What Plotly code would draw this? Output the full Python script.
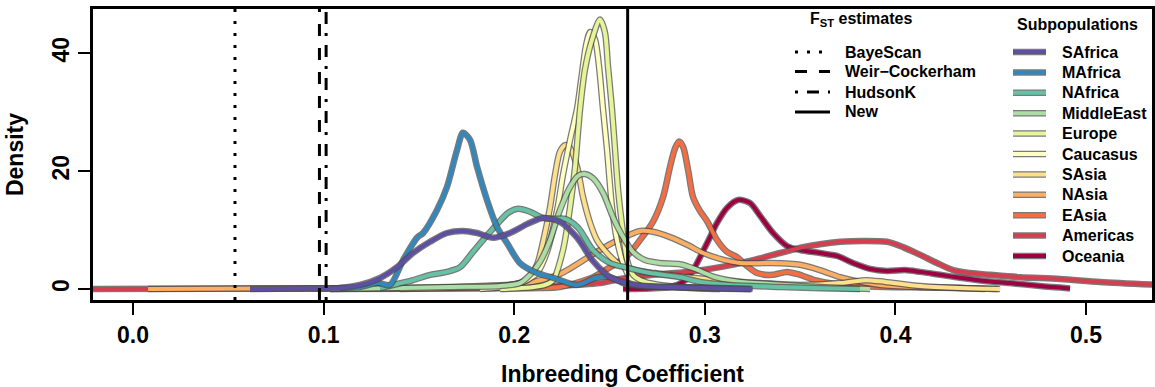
import plotly.graph_objects as go

# ---------------- data ----------------
subpops = ["SAfrica", "MAfrica", "NAfrica", "MiddleEast", "Europe", "Caucasus",
           "SAsia", "NAsia", "EAsia", "Americas", "Oceania"]
colors = ["#5E4FA2", "#3288BD", "#66C2A5", "#ABDDA4", "#E6F598", "#FFFFBF",
          "#FEE08B", "#FDAE61", "#F46D43", "#D53E4F", "#9E0142"]

x_SAfrica = [0.0614, 0.0876, 0.1086, 0.119, 0.1296, 0.1385, 0.1469, 0.1558, 0.1647, 0.1731, 0.1805,
             0.1889, 0.1978, 0.2067, 0.2151, 0.224, 0.233, 0.2413, 0.2503, 0.2571, 0.266, 0.287, 0.308, 0.325]
y_SAfrica = [0, 0.1, 0.17, 0.68, 1.87, 3.7, 6.1, 8.0, 9.5, 9.85, 9.5,
             8.7, 9.5, 11.0, 12.05, 11.4, 8.7, 4.75, 2.0, 1.2, 0.6, 0.25, 0.1, 0]

x_MAfrica = [0.1086, 0.119, 0.1285, 0.1348, 0.1417, 0.149, 0.1522, 0.1595, 0.1647, 0.170, 0.1731, 0.1768,
             0.1805, 0.1857, 0.191, 0.1962, 0.203, 0.212, 0.2204, 0.233, 0.2434, 0.2503, 0.2571, 0.266,
             0.287, 0.308, 0.324]
y_MAfrica = [0.17, 0.34, 1.0, 0.68, 4.9, 8.7, 9.5, 13.4, 17.3, 23.6, 26.5, 25.3,
             20.7, 15.1, 10.5, 7.8, 4.4, 2.7, 1.9, 0.68, 2.0, 2.0, 1.0, 0.5,
             0.34, 0.17, 0]

x_NAfrica = [0.1296, 0.1364, 0.1469, 0.1558, 0.1647, 0.1716, 0.1784, 0.1847, 0.191, 0.1967, 0.202, 0.2083,
             0.2151, 0.2214, 0.2267, 0.2335, 0.2413, 0.2503, 0.2592, 0.2713, 0.287, 0.2975, 0.3132, 0.3395,
             0.3657, 0.3814]
y_NAfrica = [0.17, 0.68, 1.5, 2.4, 2.9, 3.7, 6.3, 8.7, 11.0, 12.9, 13.6, 13.1,
             12.05, 11.9, 11.9, 10.4, 6.6, 4.4, 3.6, 2.7, 2.0, 1.2, 0.68, 0.34,
             0.1, 0]

x_MiddleEast = [0.1034, 0.1401, 0.1663, 0.1926, 0.203, 0.2083, 0.2135, 0.2188, 0.224, 0.2293, 0.2335,
                0.2371, 0.2413, 0.2466, 0.2518, 0.2571, 0.2623, 0.2686, 0.2765, 0.287, 0.2949, 0.3054,
                0.3185, 0.3342, 0.35, 0.3657, 0.3867]
y_MiddleEast = [0, 0.17, 0.34, 0.5, 1.0, 2.4, 4.6, 8.3, 13.4, 17.3, 19.2,
                19.5, 18.8, 16.3, 12.2, 8.8, 6.3, 4.9, 4.4, 4.2, 3.4, 2.0,
                1.2, 0.85, 0.5, 0.25, 0]

x_Europe = [0.1926, 0.2083, 0.2162, 0.2204, 0.2256, 0.2293, 0.2319, 0.2345, 0.2371, 0.2408, 0.245,
            0.2476, 0.2492, 0.2513, 0.2529, 0.2545, 0.2571, 0.2592, 0.2623, 0.2686, 0.2765, 0.287,
            0.308, 0.324]
y_Europe = [0, 0.25, 0.68, 1.5, 6.6, 13.9, 20.7, 30.4, 37.2, 42.3, 45.7,
            43.5, 37.7, 30.4, 23.6, 16.8, 9.5, 4.9, 2.4, 1.2, 0.68, 0.34,
            0.1, 0]

x_Caucasus = [0.1821, 0.1926, 0.2004, 0.2067, 0.212, 0.2172, 0.2225, 0.2256, 0.2293, 0.233, 0.2356,
              0.2377, 0.2398, 0.2424, 0.2445, 0.2466, 0.2487, 0.2513, 0.2539, 0.2571, 0.2608, 0.266,
              0.2739, 0.2817, 0.2975, 0.308]
y_Caucasus = [0, 0.25, 0.68, 1.5, 2.7, 6.3, 13.4, 19.4, 25.3, 30.7, 36.7,
              41.4, 43.6, 42.3, 37.7, 30.4, 23.6, 13.9, 8.3, 4.4, 1.87, 0.85,
              0.5, 0.34, 0.1, 0]

x_SAsia = [0.1401, 0.1663, 0.1873, 0.1978, 0.2067, 0.212, 0.2151, 0.2188, 0.2214, 0.224, 0.2267, 0.2293,
           0.233, 0.2361, 0.2398, 0.2434, 0.2487, 0.2555, 0.2634, 0.2739, 0.2907, 0.308, 0.329, 0.35,
           0.371, 0.384, 0.3945, 0.413, 0.4339, 0.4549]
y_SAsia = [0, 0.17, 0.34, 0.68, 1.5, 4.2, 8.0, 13.9, 19.4, 23.3, 24.4, 23.9,
           20.7, 15.6, 11.2, 8.3, 6.1, 4.1, 3.2, 2.7, 2.0, 1.5, 1.0, 0.68,
           1.0, 1.5, 1.2, 0.5, 0.17, 0]

x_NAsia = [0.0079, 0.0876, 0.1506, 0.1821, 0.2067, 0.224, 0.2413, 0.2503, 0.2592, 0.266, 0.2728, 0.2817,
           0.2907, 0.2991, 0.308, 0.3185, 0.3342, 0.35, 0.3604, 0.371, 0.3814, 0.3919, 0.4129, 0.4339, 0.447]
y_NAsia = [0, 0.1, 0.17, 0.5, 1.0, 2.55, 5.9, 7.6, 9.0, 9.85, 9.7, 8.8,
           7.5, 6.1, 5.1, 4.4, 4.4, 4.1, 3.2, 2.0, 1.2, 0.68, 0.34, 0.17, 0]

x_EAsia = [0.1034, 0.1821, 0.2135, 0.224, 0.2413, 0.2503, 0.2592, 0.266, 0.2728, 0.2781, 0.2817, 0.2844,
           0.2865, 0.2886, 0.2912, 0.2938, 0.2975, 0.3012, 0.3064, 0.3116, 0.3169, 0.3221, 0.3274, 0.3353,
           0.3431, 0.35, 0.3578, 0.3683, 0.3867, 0.4129, 0.4339, 0.4538]
y_EAsia = [0, 0.1, 0.17, 0.34, 2.0, 3.7, 5.6, 8.3, 11.4, 15.6, 20.7, 23.9,
           25.0, 24.1, 20.2, 15.6, 13.2, 11.5, 8.3, 6.3, 5.4, 3.9, 2.7, 2.4,
           2.9, 2.4, 1.5, 0.85, 0.42, 0.25, 0.17, 0]

x_Americas = [-0.025, 0.10, 0.18, 0.22, 0.245, 0.2555, 0.2728, 0.2907, 0.308, 0.3253, 0.3395, 0.3515,
              0.3604, 0.371, 0.383, 0.3956, 0.404, 0.4129, 0.4218, 0.4302, 0.4391, 0.4496, 0.4654,
              0.4864, 0.5073, 0.5388]
y_Americas = [0, 0.1, 0.25, 0.5, 1.0, 1.7, 2.4, 2.9, 3.7, 4.9, 6.1, 7.1,
              7.6, 8.0, 8.15, 8.0, 7.1, 5.8, 4.4, 3.2, 2.7, 2.4, 2.0,
              1.7, 1.2, 0.7]

x_Oceania = [0.2571, 0.2713, 0.2817, 0.2886, 0.2938, 0.3012, 0.3064, 0.3116, 0.3174, 0.3237, 0.329,
             0.3358, 0.3431, 0.35, 0.3604, 0.3694, 0.3778, 0.3867, 0.3956, 0.405, 0.4129, 0.4234,
             0.4339, 0.447, 0.4601, 0.4759, 0.4916]
y_Oceania = [0, 0.1, 0.34, 1.2, 3.2, 7.8, 11.2, 13.75, 15.1, 14.6, 12.4,
             9.5, 7.3, 6.6, 6.1, 5.6, 4.4, 3.4, 3.06, 3.2, 2.9, 2.4,
             1.9, 1.36, 1.0, 0.5, 0.1]

curve_x = [x_SAfrica, x_MAfrica, x_NAfrica, x_MiddleEast, x_Europe, x_Caucasus,
           x_SAsia, x_NAsia, x_EAsia, x_Americas, x_Oceania]
curve_y = [y_SAfrica, y_MAfrica, y_NAfrica, y_MiddleEast, y_Europe, y_Caucasus,
           y_SAsia, y_NAsia, y_EAsia, y_Americas, y_Oceania]

fst_methods = ["BayeScan", "Weir\u2212Cockerham", "HudsonK", "New"]
fst_values = [0.0535, 0.0978, 0.1013, 0.2595]
fst_dashes = ["3px,9px", "12px,12px", "3px,9px,12px,9px", "solid"]

x_ticks = [0.0, 0.1, 0.2, 0.3, 0.4, 0.5]
x_ticklabels = ["0.0", "0.1", "0.2", "0.3", "0.4", "0.5"]
y_ticks = [0, 20, 40]
y_ticklabels = ["0", "20", "40"]

# ---------------- figure ----------------
W, H = 1155, 387
ML, MR, MT, MB = 93, 3, 9, 87
PW, PH = W - ML - MR, H - MT - MB

def px2paper(px, py):
    return (px - ML) / PW, (H - MB - py) / PH

FONT = "Liberation Sans, Arial, Helvetica, sans-serif"
OUTLINE = "rgba(70,70,70,0.72)"

fig = go.Figure()

# draw in reverse order so SAfrica ends on top
for i in reversed(range(len(subpops))):
    fig.add_trace(go.Scatter(x=curve_x[i], y=curve_y[i], mode="lines",
                             line=dict(color=OUTLINE, width=6.5, shape="spline", smoothing=0.8),
                             hoverinfo="skip", showlegend=False))
    fig.add_trace(go.Scatter(x=curve_x[i], y=curve_y[i], mode="lines", name=subpops[i],
                             line=dict(color=colors[i], width=4, shape="spline", smoothing=0.8),
                             showlegend=False))

shapes = []
for v, d in zip(fst_values, fst_dashes):
    shapes.append(dict(type="line", xref="x", yref="paper", x0=v, x1=v, y0=0, y1=1,
                       line=dict(color="black", width=3, dash=d)))

annotations = []
LEG_FONT = dict(family=FONT, size=16, color="black", weight="bold")
# FST legend
tx, ty = px2paper(808, 20)
annotations.append(dict(x=tx, y=ty, xref="paper", yref="paper", xanchor="left", yanchor="middle",
                        text="F<sub>ST</sub> estimates", showarrow=False, font=LEG_FONT))
fst_rows = [52, 71.5, 92, 112]
for name, d, ry in zip(fst_methods, fst_dashes, fst_rows):
    x0, y0 = px2paper(795, ry)
    x1, _ = px2paper(830, ry)
    shapes.append(dict(type="line", xref="paper", yref="paper", x0=x0, x1=x1, y0=y0, y1=y0,
                       line=dict(color="black", width=3, dash=d)))
    lx, _ = px2paper(843, ry)
    annotations.append(dict(x=lx, y=y0, xref="paper", yref="paper", xanchor="left", yanchor="middle",
                            text=name, showarrow=False, font=LEG_FONT))

# Subpopulation legend
tx, ty = px2paper(1015, 24)
annotations.append(dict(x=tx, y=ty, xref="paper", yref="paper", xanchor="left", yanchor="middle",
                        text="Subpopulations", showarrow=False, font=LEG_FONT))
for i, (name, c) in enumerate(zip(subpops, colors)):
    ry = 52 + i * 20.4
    x0, y0 = px2paper(1013, ry)
    x1, _ = px2paper(1046, ry)
    shapes.append(dict(type="line", xref="paper", yref="paper", x0=x0, x1=x1, y0=y0, y1=y0,
                       line=dict(color=OUTLINE, width=6.5)))
    shapes.append(dict(type="line", xref="paper", yref="paper", x0=x0, x1=x1, y0=y0, y1=y0,
                       line=dict(color=c, width=4)))
    lx, _ = px2paper(1060, ry)
    annotations.append(dict(x=lx, y=y0, xref="paper", yref="paper", xanchor="left", yanchor="middle",
                            text=name, showarrow=False, font=LEG_FONT))

fig.update_layout(
    width=W, height=H,
    margin=dict(l=ML, r=MR, t=MT, b=MB, autoexpand=False),
    paper_bgcolor="white", plot_bgcolor="white",
    showlegend=False,
    shapes=shapes, annotations=annotations,
    font=dict(family=FONT, color="black"),
)
fig.update_xaxes(range=[-0.021, 0.5346], tickvals=x_ticks, ticktext=x_ticklabels,
                 showgrid=False, zeroline=False, showline=True, mirror=True,
                 linecolor="black", linewidth=3, ticks="outside", ticklen=12, tickwidth=2,
                 tickcolor="black",
                 tickfont=dict(family=FONT, size=23, color="black", weight="bold"),
                 title=dict(text="Inbreeding Coefficient", standoff=22,
                            font=dict(family=FONT, size=23, color="black", weight="bold")))
fig.update_yaxes(range=[-1.87, 47.5], tickvals=y_ticks, ticktext=y_ticklabels,
                 showgrid=False, zeroline=False, showline=True, mirror=True,
                 linecolor="black", linewidth=3, ticks="outside", ticklen=12, tickwidth=2,
                 tickcolor="black", tickangle=-90,
                 tickfont=dict(family=FONT, size=23, color="black", weight="bold"),
                 title=dict(text="Density", standoff=18,
                            font=dict(family=FONT, size=23, color="black", weight="bold")))

fig.write_html("out.html", config={"displayModeBar": False},
               post_script="document.body.style.margin='0';document.body.style.padding='0';")
